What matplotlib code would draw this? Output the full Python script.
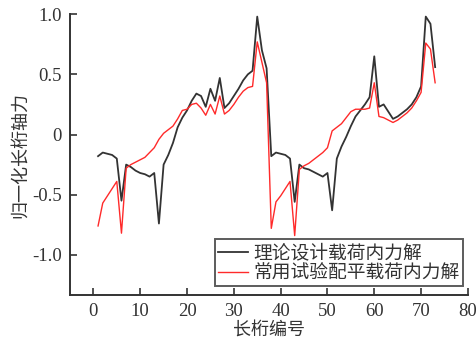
import matplotlib
matplotlib.use('Agg')
import matplotlib.pyplot as plt
import numpy as np

# stringer numbers 1..73
stringer = np.arange(1, 74)

# theoretical design load internal force (normalized)
design_force = [
    -0.18, -0.15, -0.16, -0.17, -0.20, -0.55, -0.25, -0.27, -0.30, -0.32,
    -0.33, -0.35, -0.32, -0.74, -0.25, -0.17, -0.07, 0.06, 0.14, 0.20,
    0.28, 0.34, 0.32, 0.23, 0.38, 0.28, 0.47, 0.22, 0.26, 0.32,
    0.38, 0.45, 0.50, 0.53, 0.98, 0.70, 0.55, -0.18, -0.15, -0.16,
    -0.17, -0.20, -0.56, -0.25, -0.28, -0.29, -0.31, -0.33, -0.35, -0.32,
    -0.63, -0.20, -0.10, -0.02, 0.07, 0.15, 0.20, 0.25, 0.31, 0.65,
    0.23, 0.25, 0.19, 0.13, 0.15, 0.18, 0.21, 0.25, 0.31, 0.40,
    0.98, 0.92, 0.56,
]

# common test trim load internal force (normalized)
test_force = [
    -0.76, -0.57, -0.51, -0.45, -0.39, -0.82, -0.28, -0.25, -0.23, -0.21,
    -0.19, -0.15, -0.11, -0.04, 0.01, 0.04, 0.07, 0.13, 0.20, 0.21,
    0.25, 0.26, 0.22, 0.16, 0.25, 0.17, 0.32, 0.17, 0.20, 0.25,
    0.31, 0.36, 0.39, 0.40, 0.77, 0.60, 0.43, -0.78, -0.56, -0.51,
    -0.45, -0.39, -0.84, -0.29, -0.26, -0.24, -0.21, -0.18, -0.15, -0.11,
    0.03, 0.06, 0.09, 0.14, 0.19, 0.21, 0.21, 0.21, 0.22, 0.43,
    0.15, 0.14, 0.12, 0.10, 0.12, 0.15, 0.18, 0.22, 0.28, 0.35,
    0.76, 0.71, 0.43,
]

labels = ['理论设计载荷内力解', '常用试验配平载荷内力解']
xticks = [0, 10, 20, 30, 40, 50, 60, 70, 80]
yticks = [-1.0, -0.5, 0.0, 0.5, 1.0]
ytick_labels = ['-1.0', '-0.5', '0', '0.5', '1.0']

cjk = ['Noto Sans CJK SC', 'DejaVu Sans']
num_font = 'Liberation Serif'

fig = plt.figure(figsize=(4.76, 3.46), dpi=100)
ax = fig.add_axes([0.147, 0.147, 0.836, 0.812])

ax.plot(stringer, design_force, color='#333333', lw=1.3, label=labels[0])
ax.plot(stringer, test_force, color='#ff2a2a', lw=1.0, label=labels[1])

ax.set_xlim(-5, 80)
ax.set_ylim(-1.335, 1.0)
ax.set_xticks(xticks)
ax.set_yticks(yticks)
ax.set_yticklabels(ytick_labels)
for lab in ax.get_xticklabels() + ax.get_yticklabels():
    lab.set_family(num_font)
    lab.set_fontsize(13.5)

ax.tick_params(direction='in', length=5, width=1.2, colors='#333333',
               labelcolor='#333333', pad=6)
for s in ['top', 'right']:
    ax.spines[s].set_visible(False)
for s in ['left', 'bottom']:
    ax.spines[s].set_linewidth(1.4)
    ax.spines[s].set_color('#333333')

ax.set_xlabel('长桁编号', family=cjk, fontsize=13, color='#333333', labelpad=0)
ax.set_ylabel('归一化长桁轴力', family=cjk, fontsize=13, color='#333333', labelpad=2)

leg = ax.legend(loc='lower right', bbox_to_anchor=(0.987, 0.032),
                borderaxespad=0, prop={'family': cjk, 'size': 13.5},
                frameon=True, fancybox=False, handlelength=1.6,
                handletextpad=0.3, labelspacing=-0.05, borderpad=0.15)
leg.get_frame().set_edgecolor('#333333')
leg.get_frame().set_linewidth(1.4)
for t in leg.get_texts():
    t.set_color('#333333')

fig.savefig('out.png', dpi=100)
